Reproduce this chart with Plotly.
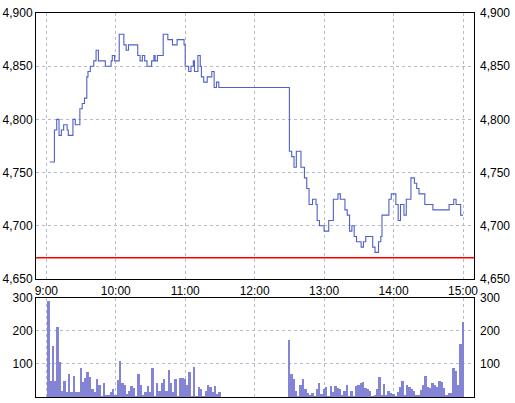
import plotly.graph_objects as go

# ---- data (minutes after 9:00) ----
price_min = [3, 7, 9, 11, 13, 15, 18, 19, 23, 25, 29, 31, 33, 35, 36, 38, 41, 43, 45, 51,
             56, 57, 59, 63, 67, 69, 71, 79, 81, 83, 85, 87, 91, 93, 94, 96, 101, 105, 109, 113,
             119, 120, 123, 125, 127, 128, 131, 133, 134, 136, 139, 143, 145, 147, 149,
             210, 212, 214, 216, 220, 223, 225, 227, 230, 233, 234, 236, 240, 244, 248, 252, 254,
             258, 260, 262, 264, 266, 268, 272, 274, 276, 282, 284, 287, 289, 290, 296, 298, 302,
             304, 306, 309, 311, 315, 318, 320, 322, 327, 334, 348, 352, 354, 358, 360]
price_val = [4760, 4790, 4800, 4785, 4790, 4795, 4790, 4785, 4800, 4795, 4810, 4815, 4820, 4840, 4845, 4850, 4855, 4865, 4855, 4850,
             4855, 4860, 4855, 4880, 4870, 4865, 4870, 4860, 4855, 4860, 4855, 4850, 4855, 4860, 4855, 4860, 4880, 4875, 4870, 4875,
             4870, 4850, 4845, 4850, 4855, 4845, 4860, 4850, 4840, 4835, 4840, 4845, 4830, 4835, 4830,
             4770, 4765, 4755, 4770, 4755, 4745, 4735, 4720, 4725, 4720, 4705, 4700, 4695, 4705, 4725, 4730, 4725,
             4715, 4710, 4695, 4700, 4690, 4685, 4680, 4685, 4690, 4680, 4675, 4685, 4690, 4710, 4725, 4730, 4720,
             4705, 4720, 4710, 4725, 4745, 4740, 4735, 4730, 4720, 4715, 4720, 4725, 4720, 4710, 4710]
prev_close = 4670

vol_am = [290, 48, 155, 48, 213, 108, 20, 48, 15, 70, 15, 64, 15, 15, 90, 46, 59, 75, 62, 26,
          15, 55, 36, 5, 43, 8, 8, 15, 26, 8, 52, 110, 43, 38, 10, 20, 33, 28, 5, 70,
          38, 8, 15, 34, 15, 90, 5, 43, 20, 43, 54, 18, 82, 44, 15, 55, 5, 57, 57, 55,
          38, 75, 5, 93, 3, 31, 26, 5, 20, 38, 31, 15, 33, 10, 15]
vol_pm = [172, 70, 55, 18, 5, 38, 55, 26, 12, 7, 13, 5, 26, 44, 10, 26, 31, 5, 34, 15,
          33, 28, 24, 8, 20, 36, 5, 20, 5, 33, 36, 44, 46, 28, 24, 18, 5, 8, 24, 62,
          8, 41, 8, 18, 13, 10, 5, 15, 31, 48, 8, 38, 31, 24, 20, 8, 6, 22, 36, 64,
          31, 28, 44, 38, 31, 48, 46, 28, 8, 12, 13, 88, 80, 38, 162, 227]
vol_am_min = [2 + 2 * i for i in range(len(vol_am))]
vol_pm_min = [360 - 2 * (len(vol_pm) - 1 - i) for i in range(len(vol_pm))]

hour_ticks = [0, 60, 120, 180, 240, 300, 360]
hour_labels = ["9:00", "10:00", "11:00", "12:00", "13:00", "14:00", "15:00"]
price_ticks = [4650, 4700, 4750, 4800, 4850, 4900]
price_labels = ["4,650", "4,700", "4,750", "4,800", "4,850", "4,900"]
vol_ticks = [100, 200, 300]
vol_labels = ["100", "200", "300"]

LINE = "#5060c8"
BAR = "#8484d6"
GRID = "#b4bccb"
FONT = dict(family="Liberation Sans, Arial, sans-serif", size=12, color="#000000")
XR = [-8.9, 369.5]

fig = go.Figure()
fig.add_trace(go.Scatter(x=price_min, y=price_val, mode="lines", line=dict(color=LINE, width=1.1, shape="hv"),
                         xaxis="x", yaxis="y", hoverinfo="skip"))
fig.add_trace(go.Scatter(x=price_min, y=price_val, mode="lines", line=dict(width=0), opacity=0,
                         xaxis="x", yaxis="y3", hoverinfo="skip"))
fig.add_trace(go.Bar(x=vol_am_min + vol_pm_min, y=vol_am + vol_pm, width=1.7,
                     marker=dict(color=BAR, line=dict(width=0)), xaxis="x2", yaxis="y2"))
fig.add_trace(go.Bar(x=vol_am_min + vol_pm_min, y=vol_am + vol_pm, width=1.7, opacity=0,
                     marker=dict(color=BAR, line=dict(width=0)), xaxis="x2", yaxis="y4"))

fig.add_shape(type="line", xref="x domain", yref="y", x0=0, x1=1, y0=prev_close, y1=prev_close,
              line=dict(color="#ff0000", width=1.5))

axis_common = dict(showline=True, linecolor="#000000", linewidth=1, mirror=True, ticks="",
                   zeroline=False, tickfont=FONT, automargin=False)
grid = dict(showgrid=True, gridcolor=GRID, griddash="3px,3px", gridwidth=1)
right_common = dict(showgrid=False, tickfont=FONT, ticks="", zeroline=False, showline=False,
                    automargin=False, ticklabelstandoff=5)

fig.update_layout(
    width=515, height=403,
    margin=dict(l=36, r=41, t=13, b=6, autoexpand=False),
    paper_bgcolor="#ffffff", plot_bgcolor="#ffffff",
    showlegend=False, bargap=0,
    xaxis=dict(domain=[0, 1], range=XR, anchor="y", tickvals=hour_ticks, ticktext=hour_labels,
               ticklabelstandoff=1, **axis_common, **grid),
    xaxis2=dict(domain=[0, 1], range=XR, anchor="y2", matches="x", tickvals=hour_ticks,
                showticklabels=False, **axis_common, **grid),
    yaxis=dict(domain=[0.3073, 1], range=[4650, 4900], tickvals=price_ticks, ticktext=price_labels,
               anchor="x", side="left", ticklabelstandoff=0, **axis_common, **grid),
    yaxis3=dict(overlaying="y", range=[4650, 4900], tickvals=price_ticks, ticktext=price_labels,
                anchor="x", side="right", **right_common),
    yaxis2=dict(domain=[0, 0.2586], range=[0, 300], tickvals=vol_ticks, ticktext=vol_labels,
                anchor="x2", side="left", ticklabelstandoff=0, **axis_common, **grid),
    yaxis4=dict(overlaying="y2", range=[0, 300], tickvals=vol_ticks, ticktext=vol_labels,
                anchor="x2", side="right", **right_common),
)

fig.write_html("out.html", config={"displayModeBar": False},
               post_script="document.body.style.margin='0px';")
